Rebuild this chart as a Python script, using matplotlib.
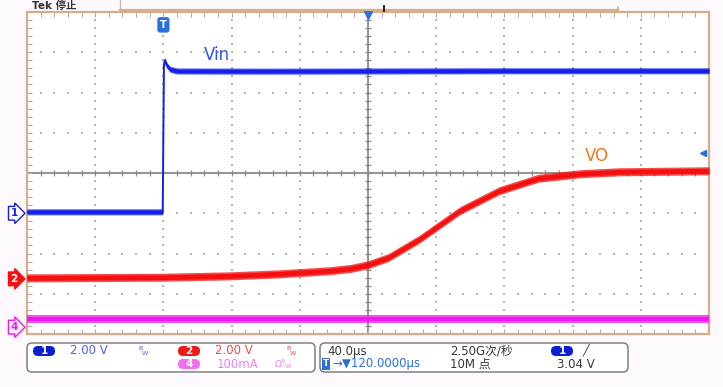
"""Scope capture: Vin step and VO soft-start ramp (ch1 / ch2 / ch4)."""

import numpy as np
import matplotlib

matplotlib.use("Agg")
import matplotlib.pyplot as plt
from matplotlib.patches import FancyBboxPatch
from matplotlib.transforms import Affine2D, blended_transform_factory

plt.rcParams["font.family"] = ["DejaVu Sans", "Noto Sans CJK SC"]

# timebase: 40 us/div, trigger 2 div from the left edge, 120 us delay
T_MIN, T_MAX = -80.0, 320.0

# ch1 - Vin (V)
vin_t = [-80, -0.4, 0.3, 0.8, 2.0, 4.0, 8.0, 60, 200, 320]
vin_v = [0.07, 0.07, 7.35, 7.6, 7.35, 7.15, 7.07, 7.06, 7.08, 7.08]

# ch2 - VO (V)
vo_t = [-80, 0, 39, 68, 97, 110, 120, 132, 150, 174, 197, 220, 244, 267, 320]
vo_v = [0.05, 0.08, 0.15, 0.25, 0.40, 0.52, 0.70, 1.06, 1.96, 3.39, 4.38, 5.00,
        5.22, 5.32, 5.37]

# ch4 - current (mA)
i_t = [-80, 320]
i_ma = [20, 20]

# channel settings: ground marker position (div) and scale (units/div)
ch_offset = {1: -1.0, 2: -2.63, 4: -3.83}
ch_scale = {1: 2.0, 2: 2.0, 4: 100.0}

BLUE = "#1420e8"
RED = "#f41010"
MAGENTA = "#f018f0"
TAN = "#d6ad88"

W, H = 723, 387
fig = plt.figure(figsize=(W / 100, H / 100), dpi=100)
fig.patch.set_facecolor("#fdf9fc")
# pixel coordinates, origin top-left
px = Affine2D().scale(1 / 100, -1 / 100).translate(0, H / 100) + fig.dpi_scale_trans

ax = fig.add_axes([27 / W, 1 - 334 / H, 682 / W, 322 / H])
ax.set_facecolor("white")
ax.set_xlim(T_MIN, T_MAX)
ax.set_ylim(-4, 4)
for s in ax.spines.values():
    s.set_color(TAN)
    s.set_linewidth(1.6)
ax.set_xticks(np.arange(T_MIN, T_MAX + 0.1, 8))
ax.set_yticks(np.arange(-4, 4.01, 0.2))
ax.tick_params(direction="in", length=3.5, width=0.8, color="#b0b0b0",
               top=True, right=True, labelbottom=False, labelleft=False)

# dotted graticule
gx, gy = [], []
for t in np.arange(T_MIN + 40, T_MAX, 40):
    if t == 120:
        continue
    ys = np.arange(-4 + 0.2, 4, 0.2)
    gx += [t] * len(ys)
    gy += list(ys)
for d in range(-3, 4):
    if d == 0:
        continue
    ts = np.arange(T_MIN + 8, T_MAX, 8)
    gx += list(ts)
    gy += [d] * len(ts)
ax.scatter(gx, gy, s=1.6, marker="s", color="#b4b4b4", linewidths=0, zorder=1)

# centre crosshair with minor ticks
ax.axhline(0, color="#8a8a8a", lw=1.3, zorder=1)
ax.axvline(120, color="#8a8a8a", lw=1.3, zorder=1)
ct = np.arange(T_MIN, T_MAX + 0.1, 8)
ax.plot(ct, np.zeros_like(ct), ls="none", marker="|", ms=5, mew=0.9,
        color="#8a8a8a", zorder=1)
cy = np.arange(-4, 4.01, 0.2)
ax.plot(np.full_like(cy, 120), cy, ls="none", marker="_", ms=5, mew=0.9,
        color="#8a8a8a", zorder=1)


def channel_axes(ch):
    a = ax.twinx()
    off, sc = ch_offset[ch], ch_scale[ch]
    a.set_ylim((-4 - off) * sc, (4 - off) * sc)
    a.axis("off")
    return a


def trace(a, t, v, color, band, lw):
    t = np.asarray(t, float)
    v = np.asarray(v, float)
    a.fill_between(t, v - band, v + band, color=color, lw=0, alpha=0.75, zorder=3)
    a.fill_between(t, v - band * 0.6, v + band * 0.6, color=color, lw=0, zorder=3)
    a.plot(t, v, color=color, lw=lw, zorder=3, solid_joinstyle="round")


a1 = channel_axes(1)
a2 = channel_axes(2)
a4 = channel_axes(4)
trace(a4, i_t, i_ma, MAGENTA, 9.5, 1.2)
trace(a2, vo_t, vo_v, RED, 0.2, 1.5)
trace(a1, vin_t, vin_v, BLUE, 0.15, 1.4)

ax.text(24, 2.93, "Vin", color="#2a55e8", fontsize=12, va="center", zorder=5)
ax.text(247, 0.42, "VO", color="#ec7a1e", fontsize=12, va="center", zorder=5)

# trigger position, horizontal position and trigger level markers
ax.text(0, 3.68, "T", color="white", fontsize=7, fontweight="bold",
        ha="center", va="center", zorder=6,
        bbox=dict(boxstyle="round,pad=0.28", fc="#2a6fe0", ec="none"))
ax.plot([120], [3.92], marker="v", ms=6, color="#2a6fe0", clip_on=False, zorder=6)
a1.plot([316.5], [3.0], marker="<", ms=4.5, color="#2a6fe0", clip_on=False, zorder=6)

# channel ground markers on the left
for ch, a, fc, ec, tc in [(1, a1, "white", BLUE, BLUE),
                          (2, a2, RED, RED, "white"),
                          (4, a4, "#fbeefb", MAGENTA, MAGENTA)]:
    tr = blended_transform_factory(px, a.transData)
    fig.text(14, 0, str(ch), transform=tr, color=tc, fontsize=7.5,
             fontweight="bold", ha="center", va="center",
             bbox=dict(boxstyle="rarrow,pad=0.18", fc=fc, ec=ec, lw=1.0))

# record window bracket above the graticule
fig.add_artist(plt.Line2D([120, 120], [0, 11], color="#c8b8a8", lw=1.0, transform=px))
fig.add_artist(plt.Line2D([120, 618], [10, 10], color=TAN, lw=1.6, transform=px))
fig.add_artist(plt.Line2D([618, 618], [7, 12], color=TAN, lw=1.2, transform=px))
fig.add_artist(plt.Line2D([384, 384], [6, 11], color="#202020", lw=1.4, transform=px))
fig.text(32, 10.5, "Tek 停止", transform=px, fontsize=7.5, fontweight="bold",
         color="#303030", va="bottom")

# status bar
for x0, x1 in [(27, 315), (320, 628)]:
    fig.add_artist(FancyBboxPatch((x0, 343), x1 - x0, 29, transform=px,
                                  boxstyle="round,pad=0,rounding_size=5",
                                  fc="white", ec="#808080", lw=1.1))


def badge(x, y, label, color):
    fig.add_artist(FancyBboxPatch((x - 11, y - 5), 22, 10, transform=px,
                                  boxstyle="round,pad=0,rounding_size=5",
                                  fc=color, ec="none"))
    fig.text(x, y, label, transform=px, color="white", fontsize=7.5,
             fontweight="bold", ha="center", va="center")


def label(x, y, s, color, size=8.5, ha="left"):
    fig.text(x, y, s, transform=px, color=color, fontsize=size, ha=ha,
             va="center")


bw = r"$^{\mathrm{B}}\!_{\mathrm{W}}$"
badge(44, 351, "1", "#0a20d0")
label(70, 351, "2.00 V", "#5060e6")
label(138, 351, bw, "#5060e6", 6.5)
badge(189, 351, "2", "#f01818")
label(215, 351, "2.00 V", "#f04848")
label(286, 351, bw, "#f04848", 6.5)
badge(189, 364, "4", "#f070f0")
label(217, 364, "100mA", "#f080f0")
label(274, 364, "Ω" + bw, "#f080f0", 6.5)

label(327, 351, "40.0μs", "#383838")
fig.text(326, 364, "T", transform=px, color="white", fontsize=6.5,
         fontweight="bold", ha="center", va="center",
         bbox=dict(boxstyle="square,pad=0.15", fc="#2a6fe0", ec="none"))
label(332, 364, "→▼120.0000μs", "#2a6fe0")
label(450, 351, "2.50G次/秒", "#383838")
label(450, 364, "10M 点", "#383838")
badge(562, 351, "1", "#0a20d0")
label(582, 350, "╱", "#383838", 8)
label(557, 364, "3.04 V", "#383838")

fig.savefig("out.png", dpi=100, facecolor=fig.get_facecolor())
